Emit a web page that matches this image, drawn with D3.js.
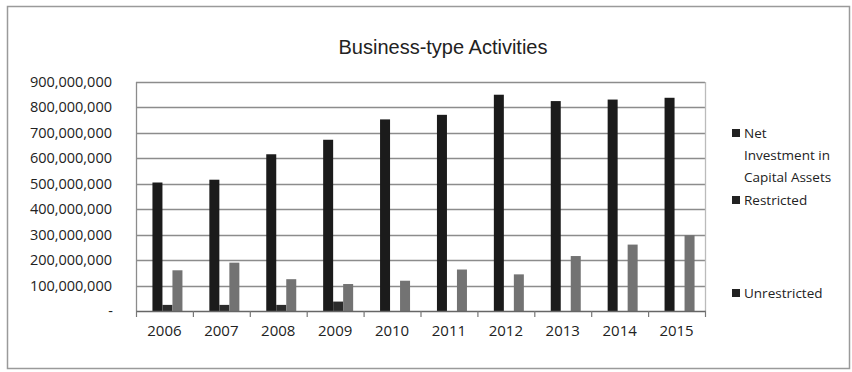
<!DOCTYPE html>
<html>
<head>
<meta charset="utf-8">
<script src="https://cdn.jsdelivr.net/npm/d3@7"></script>
<style>
  body { margin: 0; background: #fff; }
  svg text { font-family: 'Open Sans', 'Noto Sans', sans-serif; fill: #222; }
</style>
</head>
<body>
<div id="chart"></div>
<script>
const years = ['2006', '2007', '2008', '2009', '2010', '2011', '2012', '2013', '2014', '2015'];
const netInvestment = [505e6, 516e6, 616e6, 673e6, 753e6, 771e6, 850e6, 825e6, 831e6, 838e6];
const restricted = [24e6, 24e6, 24e6, 37e6, 0, 0, 0, 0, 0, 0];
const unrestricted = [160e6, 190e6, 125e6, 106e6, 119e6, 163e6, 144e6, 216e6, 261e6, 298e6];
const yTicks = [0, 100e6, 200e6, 300e6, 400e6, 500e6, 600e6, 700e6, 800e6, 900e6];
const seriesNames = ['Net Investment in Capital Assets', 'Restricted', 'Unrestricted'];

const width = 852, height = 372;
const plot = { left: 136, right: 705, top: 82, bottom: 311 };
const colors = ['#1b1b1b', '#2b2b2b', '#737373'];

const svg = d3.select('#chart').append('svg')
  .attr('width', width)
  .attr('height', height);

// outer chart frame
svg.append('rect')
  .attr('x', 7.5).attr('y', 6.5)
  .attr('width', 842).attr('height', 362)
  .attr('fill', 'none')
  .attr('stroke', '#9a9a9a')
  .attr('stroke-width', 1.5);

svg.append('text')
  .attr('x', 443).attr('y', 54)
  .attr('text-anchor', 'middle')
  .style('font-family', "'Liberation Sans', Arial, sans-serif")
  .attr('font-size', '20px')
  .text('Business-type Activities');

const x = d3.scaleBand().domain(years).range([plot.left, plot.right]).paddingInner(0).paddingOuter(0);
const y = d3.scaleLinear().domain([0, 900e6]).range([plot.bottom, plot.top]);

// gridlines
svg.append('g')
  .selectAll('line')
  .data(yTicks.filter(d => d > 0))
  .join('line')
  .attr('x1', plot.left).attr('x2', plot.right)
  .attr('y1', d => Math.round(y(d)) + 0.5).attr('y2', d => Math.round(y(d)) + 0.5)
  .attr('stroke', '#8c8c8c')
  .attr('stroke-width', 1.3);

// plot border (left and right)
svg.append('line')
  .attr('x1', plot.left + 0.5).attr('x2', plot.left + 0.5)
  .attr('y1', plot.top).attr('y2', plot.bottom)
  .attr('stroke', '#8c8c8c').attr('stroke-width', 1.3);
svg.append('line')
  .attr('x1', plot.right + 0.5).attr('x2', plot.right + 0.5)
  .attr('y1', plot.top).attr('y2', plot.bottom)
  .attr('stroke', '#bbb').attr('stroke-width', 1.3);

// y axis labels
const fmt = d3.format(',');
svg.append('g')
  .selectAll('text')
  .data(yTicks)
  .join('text')
  .attr('x', d => d === 0 ? 113 : 112)
  .attr('y', d => y(d) + 5)
  .attr('text-anchor', 'end')
  .attr('font-size', '14.5px')
  .text(d => d === 0 ? '-' : fmt(d));

// bars
const x1 = d3.scaleBand().domain(d3.range(3)).range([0, 30]);
const seriesData = [netInvestment, restricted, unrestricted];
const groups = svg.append('g')
  .selectAll('g')
  .data(years)
  .join('g')
  .attr('transform', d => `translate(${x(d) + x.bandwidth() / 2 - 12},0)`);

groups.selectAll('rect')
  .data((d, i) => seriesData.map((s, k) => ({ k, v: s[i] })))
  .join('rect')
  .attr('x', d => x1(d.k))
  .attr('width', x1.bandwidth())
  .attr('y', d => y(d.v))
  .attr('height', d => y(0) - y(d.v))
  .attr('fill', d => colors[d.k]);

// x axis
svg.append('line')
  .attr('x1', plot.left).attr('x2', plot.right + 1)
  .attr('y1', plot.bottom + 0.5).attr('y2', plot.bottom + 0.5)
  .attr('stroke', '#666').attr('stroke-width', 1.3);

svg.append('g')
  .selectAll('line')
  .data(years.concat(['end']))
  .join('line')
  .attr('x1', (d, i) => plot.left + i * x.bandwidth() + 0.5)
  .attr('x2', (d, i) => plot.left + i * x.bandwidth() + 0.5)
  .attr('y1', plot.bottom).attr('y2', plot.bottom + 6)
  .attr('stroke', '#777').attr('stroke-width', 1.2);

svg.append('g')
  .selectAll('text')
  .data(years)
  .join('text')
  .attr('x', d => x(d) + x.bandwidth() / 2)
  .attr('y', 336)
  .attr('text-anchor', 'middle')
  .attr('font-size', '15px')
  .text(d => d);

// legend
const legendRows = [
  { k: 0, lines: ['Net', 'Investment in', 'Capital Assets'], y: 138 },
  { k: 1, lines: ['Restricted'], y: 205 },
  { k: 2, lines: ['Unrestricted'], y: 298 }
];
const legend = svg.append('g');
legendRows.forEach(r => {
  legend.append('rect')
    .attr('x', 732).attr('y', r.y - 9)
    .attr('width', 8).attr('height', 8)
    .attr('fill', '#222');
  r.lines.forEach((t, j) => {
    legend.append('text')
      .attr('x', 744)
      .attr('y', r.y + j * 22)
      .attr('font-size', '13.5px')
      .text(t);
  });
});
</script>
</body>
</html>
